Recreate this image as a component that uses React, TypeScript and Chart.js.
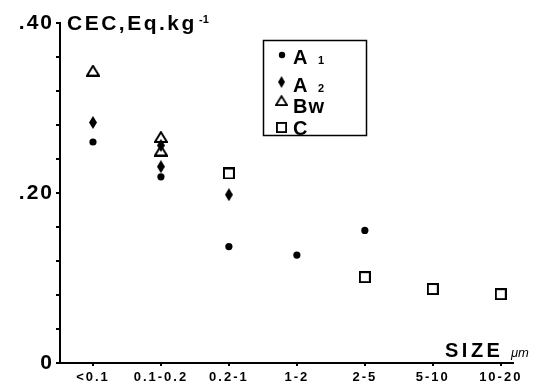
import React, { useEffect, useRef } from 'react';
import { Chart, registerables } from 'chart.js';
Chart.register(...registerables);

const categories = ['<0.1', '0.1-0.2', '0.2-1', '1-2', '2-5', '5-10', '10-20'];
const yTickLabels: Record<string, string> = { '0': '0', '0.2': '.20', '0.4': '.40' };

// A1 (filled circles)
const a1Cat = [0, 1, 2, 3, 4];
const a1Val = [0.26, 0.219, 0.137, 0.127, 0.156];
// A2 (filled diamonds)
const a2Cat = [0, 1, 1, 2];
const a2Val = [0.283, 0.231, 0.256, 0.198];
// Bw (open triangles)
const bwCat = [0, 1, 1];
const bwVal = [0.344, 0.266, 0.25];
// C (open squares)
const cCat = [2, 4, 5, 6];
const cVal = [0.223, 0.101, 0.087, 0.081];

const FONT = '"Liberation Sans", Arial, sans-serif';

function mk(w: number, h: number, draw: (ctx: CanvasRenderingContext2D) => void) {
  const c = document.createElement('canvas');
  c.width = w;
  c.height = h;
  const ctx = c.getContext('2d')!;
  draw(ctx);
  return c;
}

function diamondImg() {
  return mk(8, 13, (ctx) => {
    ctx.beginPath();
    ctx.moveTo(4, 0);
    ctx.lineTo(8, 6.5);
    ctx.lineTo(4, 13);
    ctx.lineTo(0, 6.5);
    ctx.closePath();
    ctx.fillStyle = '#000';
    ctx.fill();
  });
}
function triangleImg() {
  return mk(14, 12, (ctx) => {
    ctx.beginPath();
    ctx.moveTo(7, 1.2);
    ctx.lineTo(13, 11);
    ctx.lineTo(1, 11);
    ctx.closePath();
    ctx.fillStyle = '#fff';
    ctx.fill();
    ctx.lineWidth = 2;
    ctx.lineJoin = 'miter';
    ctx.strokeStyle = '#000';
    ctx.stroke();
  });
}
function squareImg() {
  return mk(12, 12, (ctx) => {
    ctx.fillStyle = '#fff';
    ctx.fillRect(1, 1, 10, 10);
    ctx.lineWidth = 2;
    ctx.strokeStyle = '#000';
    ctx.strokeRect(1, 1, 10, 10);
  });
}

const pts = (cats: number[], vals: number[]) => cats.map((c, i) => ({ x: c, y: vals[i] }));

export default function App() {
  const ref = useRef<HTMLCanvasElement>(null);
  useEffect(() => {
    const dia = diamondImg();
    const tri = triangleImg();
    const sq = squareImg();

    const overlay = {
      id: 'overlay',
      beforeDraw(chart: any) {
        (chart.ctx as any).letterSpacing = '2px';
      },
      beforeDatasetsDraw(chart: any) {
        (chart.ctx as any).letterSpacing = '0px';
      },
      afterDraw(chart: any) {
        const ctx: CanvasRenderingContext2D = chart.ctx;
        ctx.save();
        ctx.fillStyle = '#000';
        ctx.textBaseline = 'alphabetic';
        ctx.textAlign = 'left';
        // title
        (ctx as any).letterSpacing = '2.5px';
        ctx.font = `bold 21px ${FONT}`;
        ctx.fillText('CEC,Eq.kg', 67, 30);
        (ctx as any).letterSpacing = '0px';
        ctx.font = `bold 11px ${FONT}`;
        ctx.fillText('-1', 199, 23);
        // SIZE um
        (ctx as any).letterSpacing = '3.5px';
        ctx.font = `bold 20px ${FONT}`;
        ctx.fillText('SIZE', 445, 357);
        (ctx as any).letterSpacing = '0px';
        ctx.font = `italic 13px ${FONT}`;
        ctx.fillText('\u03bcm', 511, 357);
        // legend box
        ctx.lineWidth = 1.5;
        ctx.strokeStyle = '#000';
        ctx.strokeRect(263.5, 40.5, 103, 95);
        // legend symbols
        ctx.beginPath();
        ctx.arc(282, 55, 3.2, 0, Math.PI * 2);
        ctx.fill();
        ctx.drawImage(dia, 278, 76, 7, 12);
        ctx.drawImage(tri, 275, 95, 13, 11);
        ctx.drawImage(sq, 276, 122, 11, 11);
        // legend texts
        (ctx as any).letterSpacing = '1px';
        ctx.font = `bold 20px ${FONT}`;
        ctx.fillText('A', 293, 64);
        ctx.fillText('A', 293, 92);
        ctx.fillText('Bw', 293, 113);
        ctx.fillText('C', 293, 135);
        (ctx as any).letterSpacing = '0px';
        ctx.font = `bold 11px ${FONT}`;
        ctx.fillText('1', 318, 64);
        ctx.fillText('2', 318, 92);
        ctx.restore();
      },
    };

    const chart = new Chart(ref.current!, {
      type: 'scatter',
      data: {
        datasets: [
          { label: 'A1', data: pts(a1Cat, a1Val), pointStyle: 'circle', pointRadius: 3.6, backgroundColor: '#000', borderColor: '#000', borderWidth: 0 },
          { label: 'A2', data: pts(a2Cat, a2Val), pointStyle: dia as any, backgroundColor: '#000', borderColor: '#000' },
          { label: 'Bw', data: pts(bwCat, bwVal), pointStyle: tri as any, backgroundColor: '#fff', borderColor: '#000' },
          { label: 'C', data: pts(cCat, cVal), pointStyle: sq as any, backgroundColor: '#fff', borderColor: '#000' },
        ],
      },
      options: {
        responsive: false,
        animation: false,
        layout: { padding: { top: 23, right: 29, left: 0, bottom: 0 } },
        plugins: { legend: { display: false }, tooltip: { enabled: false } },
        scales: {
          x: {
            type: 'linear',
            min: -0.485,
            max: 6.18,
            afterBuildTicks: (axis: any) => {
              axis.ticks = categories.map((_, i) => ({ value: i }));
            },
            afterFit: (axis: any) => {
              axis.height = 25;
            },
            grid: { display: true, drawOnChartArea: false, drawTicks: true, tickLength: 3, color: '#000', lineWidth: 2 },
            border: { display: true, color: '#000', width: 2 },
            ticks: {
              autoSkip: false,
              maxRotation: 0,
              padding: 4,
              color: '#000',
              font: { family: FONT, size: 13, weight: 'bold' },
              callback: (v: any) => categories[Math.round(Number(v))] ?? '',
            },
          },
          y: {
            min: 0,
            max: 0.4,
            afterBuildTicks: (axis: any) => {
              const t = [];
              for (let i = 0; i <= 10; i++) t.push({ value: Math.round(i * 4) / 100 });
              axis.ticks = t;
            },
            afterFit: (axis: any) => {
              axis.width = 60;
            },
            grid: { display: true, drawOnChartArea: false, drawTicks: true, tickLength: 4, color: '#000', lineWidth: 2 },
            border: { display: true, color: '#000', width: 2 },
            ticks: {
              autoSkip: false,
              padding: 2,
              color: '#000',
              font: { family: FONT, size: 21, weight: 'bold' },
              callback: (v: any) => yTickLabels[String(Math.round(Number(v) * 100) / 100)] ?? '',
            },
          },
        },
      },
      plugins: [overlay],
    });
    return () => chart.destroy();
  }, []);
  return (
    <div style={{ position: 'fixed', left: 0, top: 0, width: 542, height: 388, background: '#fff' }}>
      <canvas ref={ref} width={542} height={388} style={{ width: 542, height: 388, display: 'block' }} />
    </div>
  );
}
